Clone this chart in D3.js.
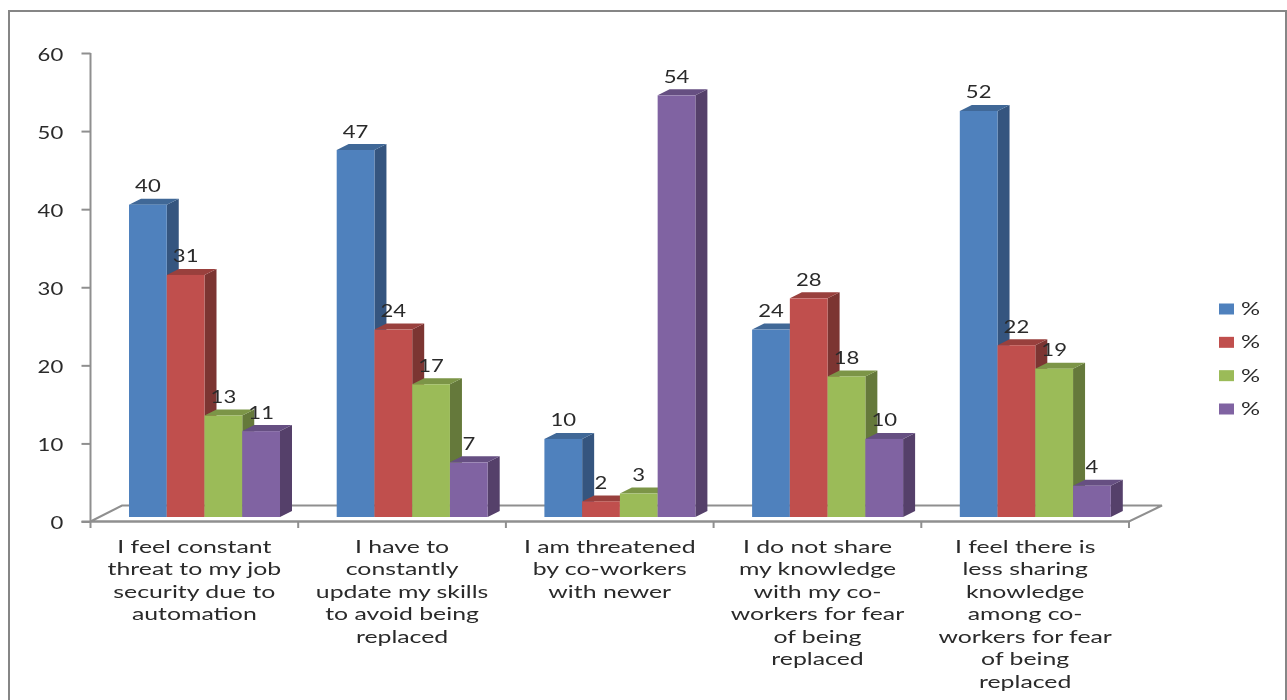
<!DOCTYPE html>
<html>
<head>
<meta charset="utf-8">
<script src="https://cdn.jsdelivr.net/npm/d3@7/dist/d3.min.js"></script>
<style>
html,body{margin:0;padding:0;background:#fff;overflow:hidden}
svg{display:block}
text{font-family:Lato,"Noto Sans",sans-serif;fill:#2a2a2a}
</style>
</head>
<body>
<svg id="chart" width="1287" height="700"></svg>
<script>
const categories = [
  ["I feel constant","threat to my job","security due to","automation"],
  ["I have to","constantly","update my skills","to avoid being","replaced"],
  ["I am threatened","by co-workers","with newer"],
  ["I do not share","my knowledge","with my co-","workers for fear","of being","replaced"],
  ["I feel there is","less sharing","knowledge","among co-","workers for fear","of being","replaced"]
];
const seriesNames = ["%","%","%","%"];
const seriesA = [40,47,10,24,52];
const seriesB = [31,24,2,28,22];
const seriesC = [13,17,3,18,19];
const seriesD = [11,7,54,10,4];
const allSeries = [seriesA,seriesB,seriesC,seriesD];
const yTicks = [0,10,20,30,40,50,60];
const frontColors = ["#4F81BD","#C0504D","#9BBB59","#8064A2"];
const topColors = ["#3F6797","#99403D","#7B9547","#665082"];
const sideColors = ["#34557F","#7C3432","#65793A","#543F6B"];

const svg = d3.select("#chart");
const defs = svg.append("defs");
defs.append("filter").attr("id","soft").append("feGaussianBlur").attr("stdDeviation",0.55);
const root = svg.append("g").attr("filter","url(#soft)");

const dx = 12, dy = -6, lift = -4.5;
const axisColor = "#8f8f8f";

const x = d3.scaleBand().domain(d3.range(categories.length)).range([90.5,1129]);
const y = d3.scaleLinear().domain([0,60]).range([521.5,53]);
const inner = d3.scaleBand().domain(d3.range(allSeries.length))
  .range([38.5, 38.5 + 151]);

// frame
root.append("rect").attr("x",9).attr("y",11).attr("width",1277).attr("height",700)
  .attr("fill","none").attr("stroke","#868686").attr("stroke-width",2);

// floor
const floorPts = [[90.5,521.5],[122,505.5],[1162,505.5],[1129,521.5]];
root.append("polygon").attr("points",floorPts.join(" "))
  .attr("fill","#fff").attr("stroke",axisColor).attr("stroke-width",2);

// y axis
const yAxis = d3.axisLeft(y).tickValues(yTicks).tickSize(9);
const gy = root.append("g").attr("transform","translate(90.5,0)").call(yAxis);
gy.selectAll("path,line").attr("stroke",axisColor).attr("stroke-width",2);
gy.select(".domain").attr("d","M0,53V521.5");
gy.selectAll("text").attr("font-size",17)
  .attr("transform","scale(1.3,1)").attr("x",-21).attr("dy",7).attr("fill","#2a2a2a");

// x axis ticks
const xBoundaries = d3.range(categories.length+1).map(i => i===categories.length ? x.range()[1] : x(i));
root.append("line").attr("x1",81.5).attr("x2",1129).attr("y1",521.5).attr("y2",521.5)
  .attr("stroke",axisColor).attr("stroke-width",2);
root.selectAll(".xtick").data(xBoundaries).join("line").attr("class","xtick")
  .attr("x1",d=>d).attr("x2",d=>d).attr("y1",521.5).attr("y2",528)
  .attr("stroke",axisColor).attr("stroke-width",2);

// bars
allSeries.forEach((vals,s)=>{
  const g = root.append("g");
  const w = inner.bandwidth();
  const data = vals.map((v,c)=>({v,c,x0:x(c)+inner(s),top:y(v)+lift,base:y(0)+lift}));
  g.selectAll(".side").data(data).join("polygon")
    .attr("points",d=>[[d.x0+w,d.top],[d.x0+w+dx,d.top+dy],[d.x0+w+dx,d.base+dy],[d.x0+w,d.base]].join(" "))
    .attr("fill",sideColors[s]);
  g.selectAll(".top").data(data).join("polygon")
    .attr("points",d=>[[d.x0,d.top],[d.x0+dx,d.top+dy],[d.x0+w+dx,d.top+dy],[d.x0+w,d.top]].join(" "))
    .attr("fill",topColors[s]);
  g.selectAll(".front").data(data).join("rect")
    .attr("x",d=>d.x0).attr("y",d=>d.top).attr("width",w).attr("height",d=>d.base-d.top)
    .attr("fill",frontColors[s]);
});
// value labels drawn above all bars
allSeries.forEach((vals,s)=>{
  const w = inner.bandwidth();
  root.selectAll(".val"+s).data(vals).join("text").attr("class","val"+s)
    .attr("transform",(v,c)=>`translate(${x(c)+inner(s)+w/2},${y(v)+lift-12.5}) scale(1.3,1)`)
    .attr("text-anchor","middle").attr("font-size",17).text(v=>v);
});

// category labels
categories.forEach((lines,c)=>{
  const cx = x(c)+x.bandwidth()/2;
  root.selectAll(".cat"+c).data(lines).join("text").attr("class","cat"+c)
    .attr("transform",(t,i)=>`translate(${cx},${552.5+i*22.55}) scale(1.46,1)`)
    .attr("text-anchor","middle").attr("font-size",17).text(t=>t);
});

// legend
const legendY = d3.scalePoint().domain(d3.range(seriesNames.length)).range([309,409]);
const lg = root.selectAll(".leg").data(seriesNames).join("g").attr("class","leg")
  .attr("transform",(d,i)=>`translate(1219,${legendY(i)})`);
lg.append("rect").attr("x",0).attr("y",-5.5).attr("width",15).attr("height",11)
  .attr("fill",(d,i)=>frontColors[i]);
lg.append("text").attr("transform","translate(22,6) scale(1.4,1)").attr("font-size",17).attr("fill","#333").text(d=>d);
</script>
</body>
</html>
